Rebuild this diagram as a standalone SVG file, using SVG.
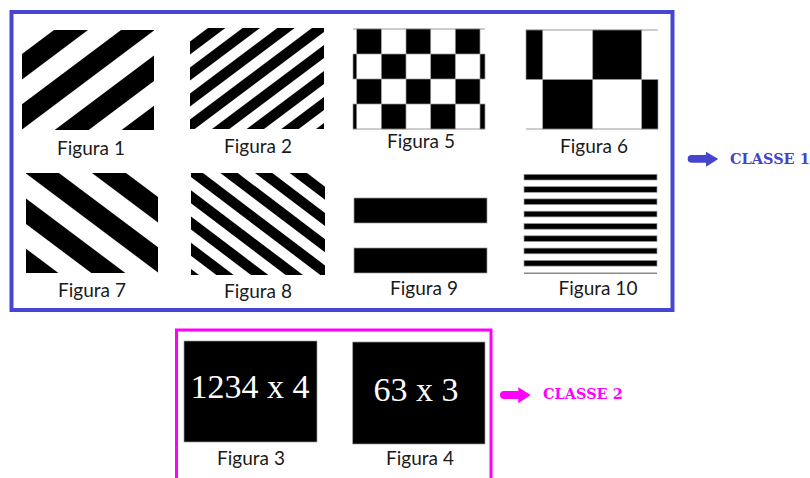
<svg xmlns="http://www.w3.org/2000/svg" xmlns:xlink="http://www.w3.org/1999/xlink" width="810" height="478" viewBox="0 0 810 478">
<style>
.lbl{font-family:Lato,"Open Sans","Noto Sans",sans-serif;font-size:19px;fill:#1a1a1a;text-anchor:middle}
.blk{fill:#000}
.cell{fill:#000;stroke:#9a9a9a;stroke-width:0.7}
.gl{stroke:#9a9a9a;stroke-width:1;fill:none}
.big{font-family:"Liberation Serif","Times New Roman",serif;font-size:34px;fill:#fff;text-anchor:middle}
.c1{font-family:"DejaVu Serif",serif;font-weight:bold;font-size:14.5px;fill:#4444cc}
.c2{font-family:"DejaVu Serif",serif;font-weight:bold;font-size:14.5px;fill:#f0f}
</style>
<defs>
<clipPath id="clip1" clipPathUnits="userSpaceOnUse"><rect x="0" y="0" width="132" height="100"/></clipPath>
<clipPath id="clip2" clipPathUnits="userSpaceOnUse"><rect x="0" y="0" width="134" height="101"/></clipPath>
<g id="stripesWide" clip-path="url(#clip1)">
<polygon class="blk" points="-10,31.5 150,-88.5 150,-63 -10,57"/>
<polygon class="blk" points="-10,81.8 150,-38.2 150,-13 -10,107"/>
<polygon class="blk" points="-10,132 150,12 150,37.5 -10,157.5"/>
<polygon class="blk" points="-10,182.2 150,62.2 150,87.5 -10,207.5"/>
</g>
<g id="stripesNarrow" clip-path="url(#clip2)">
<polygon class="blk" points="-10,21 150,-99 150,-86 -10,34"/>
<polygon class="blk" points="-10,47 150,-73 150,-60 -10,60"/>
<polygon class="blk" points="-10,73 150,-47 150,-34 -10,86"/>
<polygon class="blk" points="-10,99 150,-21 150,-8 -10,112"/>
<polygon class="blk" points="-10,125 150,5 150,18 -10,138"/>
<polygon class="blk" points="-10,151 150,31 150,44 -10,164"/>
<polygon class="blk" points="-10,177 150,57 150,70 -10,190"/>
<polygon class="blk" points="-10,203 150,83 150,96 -10,216"/>
</g>
</defs>
<rect width="810" height="478" fill="#fff"/>

<g id="classe1-box">
<rect x="11.5" y="12" width="661" height="298" fill="none" stroke="#4646d2" stroke-width="4"/>
</g>
<g id="classe2-box">
<path d="M176.5,478 V330 H491 V478" fill="none" stroke="#f0f" stroke-width="3"/>
</g>

<g id="figura1">
<use xlink:href="#stripesWide" transform="translate(22,30)"/>
<text class="lbl" x="91" y="155">Figura 1</text>
</g>
<g id="figura2">
<use xlink:href="#stripesNarrow" transform="translate(190,28)"/>
<text class="lbl" x="258" y="153">Figura 2</text>
</g>
<g id="figura5">
<line class="gl" x1="353" y1="29" x2="485" y2="29"/>
<line class="gl" x1="353" y1="129" x2="485" y2="129"/>
<rect class="cell" x="356.7" y="29" width="24.6" height="25"/>
<rect class="cell" x="406" y="29" width="24.7" height="25"/>
<rect class="cell" x="455.3" y="29" width="24.7" height="25"/>
<rect class="cell" x="353" y="54" width="3.7" height="25"/>
<rect class="cell" x="381.3" y="54" width="24.7" height="25"/>
<rect class="cell" x="430.7" y="54" width="24.6" height="25"/>
<rect class="cell" x="480" y="54" width="5" height="25"/>
<rect class="cell" x="356.7" y="79" width="24.6" height="25"/>
<rect class="cell" x="406" y="79" width="24.7" height="25"/>
<rect class="cell" x="455.3" y="79" width="24.7" height="25"/>
<rect class="cell" x="353" y="104" width="3.7" height="25"/>
<rect class="cell" x="381.3" y="104" width="24.7" height="25"/>
<rect class="cell" x="430.7" y="104" width="24.6" height="25"/>
<rect class="cell" x="480" y="104" width="5" height="25"/>
<text class="lbl" x="421" y="148">Figura 5</text>
</g>
<g id="figura6">
<line class="gl" x1="526" y1="30" x2="658" y2="30"/>
<line class="gl" x1="526" y1="129" x2="658" y2="129"/>
<rect class="cell" x="526" y="30" width="16.7" height="49.5"/>
<rect class="cell" x="592.7" y="30" width="49" height="49.5"/>
<rect class="cell" x="542.7" y="79.5" width="50" height="49.5"/>
<rect class="cell" x="641.7" y="79.5" width="16.3" height="49.5"/>
<text class="lbl" x="594" y="153">Figura 6</text>
</g>
<g id="figura7">
<use xlink:href="#stripesWide" transform="translate(158,173) scale(-1,1)"/>
<text class="lbl" x="92" y="297">Figura 7</text>
</g>
<g id="figura8">
<use xlink:href="#stripesNarrow" transform="translate(325,173) scale(-1,1.01)"/>
<text class="lbl" x="258" y="298">Figura 8</text>
</g>
<g id="figura9">
<rect class="cell" x="354" y="198" width="133" height="25"/>
<rect class="cell" x="354" y="248" width="133" height="25"/>
<text class="lbl" x="424" y="295">Figura 9</text>
</g>
<g id="figura10">
<rect class="cell" x="524" y="174.3" width="133" height="5.7"/>
<rect class="cell" x="524" y="186.6" width="133" height="5.7"/>
<rect class="cell" x="524" y="198.9" width="133" height="5.7"/>
<rect class="cell" x="524" y="211.2" width="133" height="5.7"/>
<rect class="cell" x="524" y="223.5" width="133" height="5.7"/>
<rect class="cell" x="524" y="235.8" width="133" height="5.7"/>
<rect class="cell" x="524" y="248.1" width="133" height="5.7"/>
<rect class="cell" x="524" y="260.4" width="133" height="5.7"/>
<line x1="524" y1="273.3" x2="657" y2="273.3" stroke="#888" stroke-width="1.4"/>
<text class="lbl" x="598" y="295">Figura 10</text>
</g>
<g id="figura3">
<rect class="cell" x="184" y="341" width="133" height="101"/>
<text class="big" x="250" y="398">1234 x 4</text>
<text class="lbl" x="251" y="465">Figura 3</text>
</g>
<g id="figura4">
<rect class="cell" x="352.7" y="342" width="132.3" height="102"/>
<text class="big" x="416" y="401">63 x 3</text>
<text class="lbl" x="420" y="465">Figura 4</text>
</g>

<g id="connectors">
<path d="M691.5,155 H706 V151.7 L718.3,159 L706,166.7 V162.7 H691.5 A3.85,3.85 0 0 1 691.5,155 Z" fill="#4444cc"/>
<path d="M504,391 H518.3 V387.3 L530.7,395 L518.3,403.3 V399 H504 A4,4 0 0 1 504,391 Z" fill="#f0f"/>
</g>
<g id="label-classe1">
<text class="c1" x="730" y="163.5">CLASSE 1</text>
</g>
<g id="label-classe2">
<text class="c2" x="543" y="398.5">CLASSE 2</text>
</g>
</svg>
